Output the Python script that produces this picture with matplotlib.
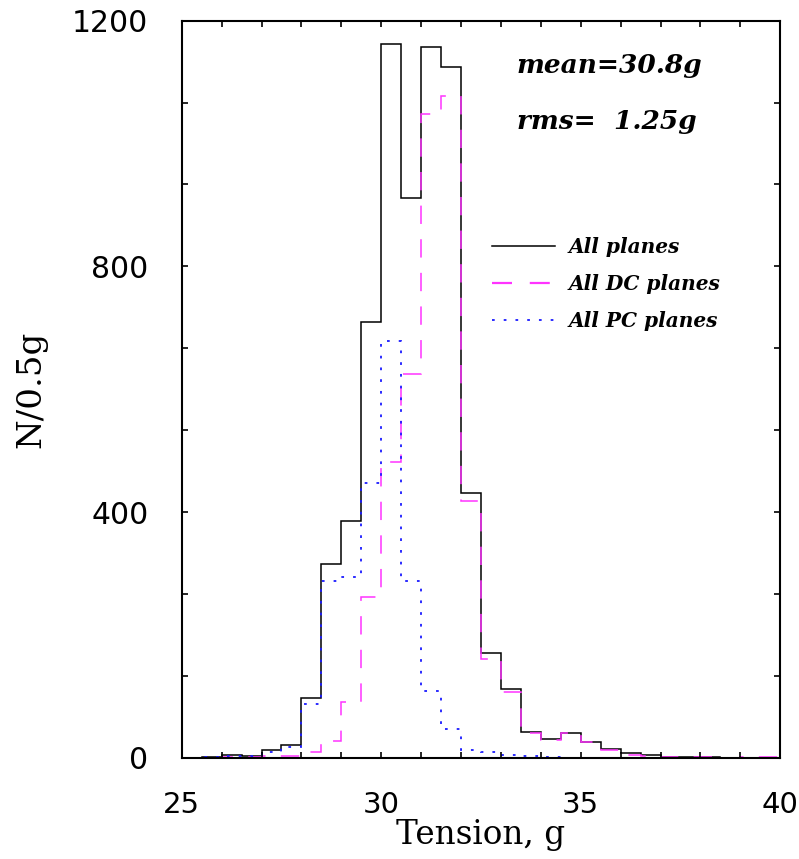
import matplotlib
matplotlib.use("Agg")
import matplotlib.pyplot as plt
from matplotlib.lines import Line2D

# Bin edges (0.5 g bins)
edges = [25.0, 25.5, 26.0, 26.5, 27.0, 27.5, 28.0, 28.5, 29.0, 29.5, 30.0,
         30.5, 31.0, 31.5, 32.0, 32.5, 33.0, 33.5, 34.0, 34.5, 35.0,
         35.5, 36.0, 36.5, 37.0, 37.5, 38.0, 38.5, 39.0, 39.5, 40.0]

all_planes = [0, 1, 4, 3, 12, 20, 98, 315, 386, 709, 1162, 912, 1157, 1124, 431,
              170, 112, 42, 31, 41, 26, 14, 7, 4, 1, 1, 1, 0, 0, 0]
dc_planes = [0, 0, 1, 1, 2, 3, 10, 27, 91, 261, 482, 624, 1048, 1078, 418,
             161, 107, 41, 29, 41, 26, 13, 5, 3, 1, 1, 1, 0, 1, 1]
pc_planes = [0, 1, 3, 2, 9, 18, 87, 287, 294, 448, 679, 288, 108, 46, 12,
             9, 5, 3, 1, 0, 0, 0, 0, 0, 0, 0, 0, 0, 0, 0]

labels = ["All planes", "All DC planes", "All PC planes"]
stat_texts = ["mean=30.8g", "rms=  1.25g"]

xticks = [25, 30, 35, 40]
yticks = [0, 400, 800, 1200]

fig = plt.figure(figsize=(7.99, 8.59), dpi=100)
ax = fig.add_axes([181.7/799, 1 - 757.7/859, (780.3-181.7)/799, (757.7-20.7)/859])

c_all, c_dc, c_pc = "black", "#ff33ff", "#1a1aff"
ax.stairs(all_planes, edges, color=c_all, lw=1.1)
ax.stairs(dc_planes, edges, color=c_dc, lw=1.1, linestyle=(0, (12, 10)))
ax.stairs(pc_planes, edges, color=c_pc, lw=1.3, linestyle=(0, (1.5, 5)))

ax.set_xlim(25, 40)
ax.set_ylim(0, 1200)
ax.set_xticks(xticks)
ax.set_xticks(range(25, 41), minor=True)
ax.set_yticks(yticks)
ax.set_yticks([i * 1200 / 9 for i in range(10)], minor=True)
ax.tick_params(which="both", direction="in", top=True, right=True,
               length=4, width=1.2)
ax.tick_params(axis="x", which="major", labelsize=21, pad=24)
ax.tick_params(axis="y", which="major", labelsize=21.5, pad=24)
for lab in ax.get_xticklabels() + ax.get_yticklabels():
    lab.set_family("DejaVu Sans")
for s in ax.spines.values():
    s.set_linewidth(1.5)

ax.set_xlabel("Tension, g", family="DejaVu Serif", fontsize=23.5, labelpad=0)
ax.set_ylabel("N/0.5g", family="DejaVu Serif", fontsize=24.5, labelpad=18)

fig.text(517/799, 1 - 73/859, stat_texts[0], fontsize=19, weight="bold",
         family="DejaVu Serif", style="italic", va="baseline", ha="left")
fig.text(517/799, 1 - 129/859, stat_texts[1], fontsize=19, weight="bold",
         family="DejaVu Serif", style="italic", va="baseline", ha="left")

handles = [Line2D([], [], color=c_all, lw=1.1),
           Line2D([], [], color=c_dc, lw=1.6, linestyle=(0, (9, 8))),
           Line2D([], [], color=c_pc, lw=1.3, linestyle=(0, (1.5, 5)))]
leg = ax.legend(handles, labels, loc="upper left",
                bbox_to_anchor=(482/799, 1 - 227/859), bbox_transform=fig.transFigure,
                frameon=False, handlelength=3.1, handletextpad=0.7,
                labelspacing=0.85, borderpad=0,
                prop={"family": "DejaVu Serif", "style": "italic",
                      "weight": "bold", "size": 14.5})

fig.savefig("out.png", dpi=100)
